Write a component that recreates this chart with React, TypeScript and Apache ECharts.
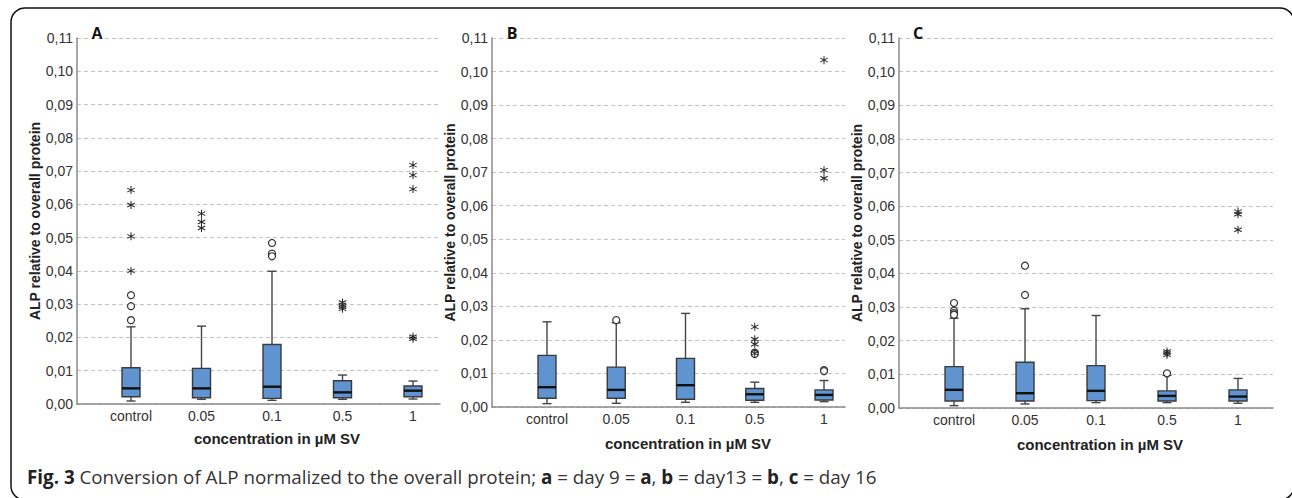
import React, { useEffect, useRef } from "react";
import * as echarts from "echarts";

const categories = ["control", "0.05", "0.1", "0.5", "1"];
const yTickValues = [0, 0.01, 0.02, 0.03, 0.04, 0.05, 0.06, 0.07, 0.08, 0.09, 0.1, 0.11];

// [min, Q1, median, Q3, max] per category
const boxA = [
  [0.0009, 0.0022, 0.0047, 0.0109, 0.0232],
  [0.0014, 0.0019, 0.0047, 0.0107, 0.0234],
  [0.0011, 0.0017, 0.0052, 0.0179, 0.0399],
  [0.0014, 0.0019, 0.0035, 0.007, 0.0087],
  [0.0015, 0.0022, 0.004, 0.0054, 0.0069],
];
const circlesA = [[0, 0.0327], [0, 0.0294], [0, 0.0252], [2, 0.0484], [2, 0.0452], [2, 0.0444]];
const starsA = [
  [0, 0.04], [0, 0.0504], [0, 0.0598], [0, 0.0643],
  [1, 0.0572], [1, 0.0547], [1, 0.0529],
  [3, 0.0305], [3, 0.0298], [3, 0.0292], [3, 0.0286],
  [4, 0.0202], [4, 0.0196], [4, 0.0718], [4, 0.0688], [4, 0.0646],
];

const boxB = [
  [0.001, 0.0026, 0.0059, 0.0154, 0.0254],
  [0.0011, 0.0026, 0.0051, 0.0119, 0.0251],
  [0.0014, 0.0023, 0.0065, 0.0145, 0.0279],
  [0.0014, 0.002, 0.0038, 0.0055, 0.0074],
  [0.0016, 0.0021, 0.0036, 0.0051, 0.0079],
];
const circlesB = [[1, 0.0259], [3, 0.0162], [3, 0.0158], [4, 0.011], [4, 0.0107]];
const starsB = [[3, 0.0239], [3, 0.0202], [3, 0.0187], [3, 0.016], [4, 0.1034], [4, 0.0706], [4, 0.0682]];

const boxC = [
  [0.0007, 0.0021, 0.0054, 0.0123, 0.0267],
  [0.0012, 0.0021, 0.0044, 0.0136, 0.0295],
  [0.0016, 0.0022, 0.0051, 0.0126, 0.0275],
  [0.0016, 0.0021, 0.0036, 0.0051, 0.0097],
  [0.0014, 0.0021, 0.0034, 0.0054, 0.0088],
];
const circlesC = [[0, 0.0312], [0, 0.0289], [0, 0.0282], [0, 0.0277], [1, 0.0423], [1, 0.0336], [3, 0.0103]];
const starsC = [[3, 0.0168], [3, 0.0163], [3, 0.0158], [4, 0.0584], [4, 0.0576], [4, 0.053]];

const panelLetters = ["A", "B", "C"];
const yAxisTitle = "ALP relative to overall protein";
const xAxisTitle = "concentration in µM SV";

const STAR =
  "path://M8.8 0 H11.2 V20 H8.8 Z M0.74 6.04 L1.94 3.96 L19.26 13.96 L18.06 16.04 Z M1.94 16.04 L0.74 13.96 L18.06 3.96 L19.26 6.04 Z";

const LABEL_COLOR = "#333";
const AXIS_COLOR = "#8a8a8a";
const FONT = "'Liberation Sans', Arial, sans-serif";

const panels = [
  { box: boxA, circles: circlesA, stars: starsA, left: 77, width: 363, height: 366, xMin: -0.766, xMax: 4.383, nameGap: 33 },
  { box: boxB, circles: circlesB, stars: starsB, left: 492, width: 353, height: 369, xMin: -0.794, xMax: 4.303, nameGap: 32 },
  { box: boxC, circles: circlesC, stars: starsC, left: 899, width: 374, height: 370, xMin: -0.775, xMax: 4.493, nameGap: 31 },
];

function renderBox(params: any, api: any) {
  const x = api.value(0);
  const lo = api.coord([x, api.value(1)]);
  const q1 = api.coord([x, api.value(2)]);
  const med = api.coord([x, api.value(3)]);
  const q3 = api.coord([x, api.value(4)]);
  const hi = api.coord([x, api.value(5)]);
  const cx = lo[0];
  const bw = 18;
  const cw = 9;
  const lineStyle = { stroke: "#444", lineWidth: 1.4 };
  return {
    type: "group",
    children: [
      { type: "line", shape: { x1: cx, y1: q3[1], x2: cx, y2: hi[1] }, style: lineStyle },
      { type: "line", shape: { x1: cx, y1: q1[1], x2: cx, y2: lo[1] }, style: lineStyle },
      { type: "line", shape: { x1: cx - cw / 2, y1: hi[1], x2: cx + cw / 2, y2: hi[1] }, style: lineStyle },
      { type: "line", shape: { x1: cx - cw / 2, y1: lo[1], x2: cx + cw / 2, y2: lo[1] }, style: lineStyle },
      {
        type: "rect",
        shape: { x: cx - bw / 2, y: q3[1], width: bw, height: q1[1] - q3[1] },
        style: { fill: "#5f94d0", stroke: "#3a3a3a", lineWidth: 1.4 },
      },
      { type: "line", shape: { x1: cx - bw / 2, y1: med[1], x2: cx + bw / 2, y2: med[1] }, style: { stroke: "#111", lineWidth: 2.4 } },
    ],
  };
}

export default function App() {
  const ref = useRef<HTMLDivElement>(null);
  useEffect(() => {
    if (!ref.current) return;
    const chart = echarts.init(ref.current, null, { renderer: "svg" });

    const grid = panels.map((p) => ({ left: p.left, top: 38, width: p.width, height: p.height }));
    const xAxis = panels.map((p, i) => ({
      type: "value",
      gridIndex: i,
      min: p.xMin,
      max: p.xMax,
      axisLine: { show: true, onZero: false, lineStyle: { color: AXIS_COLOR, width: 1.5 } },
      axisTick: { show: false },
      splitLine: { show: false },
      axisLabel: {
        customValues: [0, 1, 2, 3, 4],
        formatter: (v: number) => categories[Math.round(v)] ?? "",
        color: LABEL_COLOR,
        fontSize: 14,
        fontFamily: FONT,
        margin: 5,
      },
    }));
    const yAxis = panels.map((p, i) => ({
      type: "value",
      gridIndex: i,
      min: 0,
      max: 0.11,
      interval: 0.01,
      name: yAxisTitle,
      nameLocation: "middle",
      nameGap: p.nameGap,
      nameTextStyle: { fontWeight: "bold", fontSize: 14, color: "#222", fontFamily: FONT },
      axisLine: { show: true, onZero: false, lineStyle: { color: AXIS_COLOR, width: 1.5 } },
      axisTick: { show: false },
      splitLine: { show: true, lineStyle: { color: "#c4c4c4", type: [4, 3], width: 1 } },
      axisLabel: {
        customValues: yTickValues,
        formatter: (v: number) => v.toFixed(2).replace(".", ","),
        color: LABEL_COLOR,
        fontSize: 14,
        fontFamily: FONT,
        margin: 4,
      },
    }));

    const series: any[] = [];
    panels.forEach((p, i) => {
      series.push({
        type: "custom",
        xAxisIndex: i,
        yAxisIndex: i,
        renderItem: renderBox,
        encode: { x: 0, y: [1, 2, 3, 4, 5] },
        data: p.box.map((b, k) => [k, ...b]),
        z: 2,
      });
      series.push({
        type: "scatter",
        xAxisIndex: i,
        yAxisIndex: i,
        symbol: "circle",
        symbolSize: 7,
        itemStyle: { color: "#fff", borderColor: "#333", borderWidth: 1.2, opacity: 1 },
        data: p.circles,
        z: 3,
      });
      series.push({
        type: "scatter",
        xAxisIndex: i,
        yAxisIndex: i,
        symbol: STAR,
        symbolSize: 8,
        itemStyle: { color: "#2a2a2a", opacity: 1 },
        data: p.stars,
        z: 4,
      });
    });

    const letterPos = [
      { x: 97, font: FONT },
      { x: 512, font: "'Open Sans', sans-serif" },
      { x: 918, font: "'Open Sans', sans-serif" },
    ];
    const xTitlePos = [
      { x: 277, y: 438 },
      { x: 688, y: 443 },
      { x: 1100, y: 444 },
    ];

    const graphic: any[] = [
      {
        type: "rect",
        shape: { x: 11, y: 8, width: 1283, height: 492, r: 14 },
        style: { fill: "none", stroke: "#111", lineWidth: 1.5 },
        silent: true,
        z: 0,
      },
      ...panelLetters.map((t, i) => ({
        type: "text",
        x: letterPos[i].x,
        y: 33,
        style: {
          text: t,
          fontSize: 16,
          fontWeight: "bold",
          fontFamily: letterPos[i].font,
          fill: "#111",
          align: "center",
          verticalAlign: "middle",
        },
        z: 10,
      })),
      ...xTitlePos.map((p) => ({
        type: "text",
        x: p.x,
        y: p.y,
        style: {
          text: xAxisTitle,
          fontSize: 15,
          fontWeight: "bold",
          fontFamily: FONT,
          fill: "#222",
          align: "center",
          verticalAlign: "middle",
        },
      })),
      {
        type: "text",
        x: 27,
        y: 477,
        style: {
          text:
            "{b|Fig. 3} Conversion of ALP normalized to the overall protein; {b|a} = day 9 = {b|a}, {b|b} = day13 = {b|b}, {b|c} = day 16",
          fontSize: 18.8,
          fontFamily: "'Open Sans', sans-serif",
          fill: "#333",
          verticalAlign: "middle",
          rich: {
            b: { fontWeight: "bold", fontSize: 18.8, fontFamily: "'Open Sans', sans-serif", fill: "#222" },
          },
        },
      },
    ];

    chart.setOption({
      animation: false,
      backgroundColor: "#fff",
      grid,
      xAxis,
      yAxis,
      series,
      graphic,
    });
    return () => chart.dispose();
  }, []);

  return (
    <div
      ref={ref}
      style={{ position: "absolute", left: 0, top: 0, width: 1292, height: 498 }}
    />
  );
}
